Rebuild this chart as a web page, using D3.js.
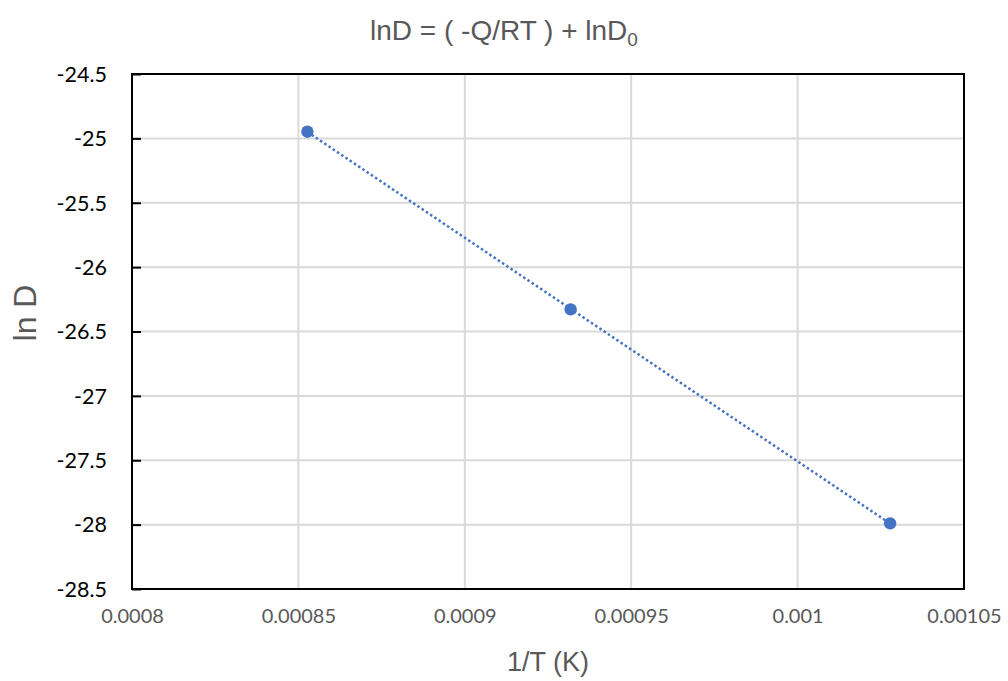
<!DOCTYPE html>
<html>
<head>
<meta charset="utf-8">
<script src="https://cdn.jsdelivr.net/npm/d3@7"></script>
<style>
  html, body { margin: 0; padding: 0; background: #fff; }
  svg { display: block; }
</style>
</head>
<body>
<svg id="chart" width="1008" height="681"></svg>
<script>
// ---- data ----
const invT = [0.0008527, 0.0009318, 0.0010278];
const lnD = [-24.948, -26.328, -27.99];
const xTicks = [0.0008, 0.00085, 0.0009, 0.00095, 0.001, 0.00105];
const xTickLabels = ["0.0008", "0.00085", "0.0009", "0.00095", "0.001", "0.00105"];
const yTicks = [-24.5, -25, -25.5, -26, -26.5, -27, -27.5, -28, -28.5];
const yTickLabels = ["-24.5", "-25", "-25.5", "-26", "-26.5", "-27", "-27.5", "-28", "-28.5"];

const W = 1008, H = 681;
const margin = { left: 132, right: 44, top: 74, bottom: 92 };
const svg = d3.select("#chart");

const x = d3.scaleLinear().domain([0.0008, 0.00105]).range([margin.left, W - margin.right]);
const y = d3.scaleLinear().domain([-28.5, -24.5]).range([H - margin.bottom, margin.top]);

const grid = "#d9d9d9";
// vertical gridlines
svg.append("g").selectAll("line").data(xTicks).join("line")
  .attr("x1", d => x(d)).attr("x2", d => x(d))
  .attr("y1", y(-24.5)).attr("y2", y(-28.5))
  .attr("stroke", grid).attr("stroke-width", 2);
// horizontal gridlines
svg.append("g").selectAll("line").data(yTicks).join("line")
  .attr("x1", x(0.0008)).attr("x2", x(0.00105))
  .attr("y1", d => y(d)).attr("y2", d => y(d))
  .attr("stroke", grid).attr("stroke-width", 2);

// y axis (inner ticks)
const yAxis = d3.axisLeft(y).tickValues(yTicks).tickSize(-9)
  .tickFormat((d, i) => yTickLabels[i]);
const gy = svg.append("g").attr("transform", `translate(${margin.left},0)`).call(yAxis);
gy.select(".domain").remove();
gy.selectAll(".tick line").attr("stroke", "#000").attr("stroke-width", 2);
gy.selectAll(".tick text").attr("x", -25).attr("dy", "0.34em")
  .attr("font-family", "Lato, 'Liberation Sans', sans-serif").attr("font-size", 21.5)
  .attr("fill", "#000");

// x axis (labels only)
const xAxis = d3.axisBottom(x).tickValues(xTicks).tickSize(0)
  .tickFormat((d, i) => xTickLabels[i]);
const gx = svg.append("g").attr("transform", `translate(0,${H - margin.bottom})`).call(xAxis);
gx.select(".domain").remove();
gx.selectAll(".tick text").attr("y", 20).attr("dy", "0.71em")
  .attr("font-family", "Lato, 'Liberation Sans', sans-serif").attr("font-size", 20)
  .attr("fill", "#595959");

// frame
svg.append("rect")
  .attr("x", x(0.0008)).attr("y", y(-24.5))
  .attr("width", x(0.00105) - x(0.0008)).attr("height", y(-28.5) - y(-24.5))
  .attr("fill", "none").attr("stroke", "#000").attr("stroke-width", 2);

// linear trendline (least squares)
const n = invT.length;
const mx = d3.mean(invT), my = d3.mean(lnD);
let sxy = 0, sxx = 0;
for (let i = 0; i < n; i++) { sxy += (invT[i] - mx) * (lnD[i] - my); sxx += (invT[i] - mx) ** 2; }
const slope = sxy / sxx, icpt = my - slope * mx;
const xr = d3.extent(invT);
svg.append("line")
  .attr("x1", x(xr[0])).attr("y1", y(slope * xr[0] + icpt))
  .attr("x2", x(xr[1])).attr("y2", y(slope * xr[1] + icpt))
  .attr("stroke", "#4472C4").attr("stroke-width", 2.5)
  .attr("stroke-dasharray", "2.5,2.6");

// points
svg.append("g").selectAll("circle").data(invT).join("circle")
  .attr("cx", d => x(d)).attr("cy", (d, i) => y(lnD[i]))
  .attr("r", 6.2).attr("fill", "#4472C4");

// title
const title = svg.append("text").attr("x", W / 2).attr("y", 40)
  .attr("text-anchor", "middle")
  .attr("font-family", "'Liberation Sans', Arial, sans-serif").attr("font-size", 28)
  .attr("fill", "#595959");
title.append("tspan").text("lnD = ( -Q/RT ) + lnD");
title.append("tspan").attr("font-size", 19).attr("dy", 6).text("0");

// axis titles
svg.append("text").attr("x", (x(0.0008) + x(0.00105)) / 2).attr("y", 671)
  .attr("text-anchor", "middle")
  .attr("font-family", "'Liberation Sans', Arial, sans-serif").attr("font-size", 27)
  .attr("fill", "#595959").text("1/T (K)");
svg.append("text").attr("transform", `translate(36,313) rotate(-90)`)
  .attr("text-anchor", "middle")
  .attr("font-family", "'Liberation Sans', Arial, sans-serif").attr("font-size", 32)
  .attr("fill", "#595959").text("ln D");
</script>
</body>
</html>
